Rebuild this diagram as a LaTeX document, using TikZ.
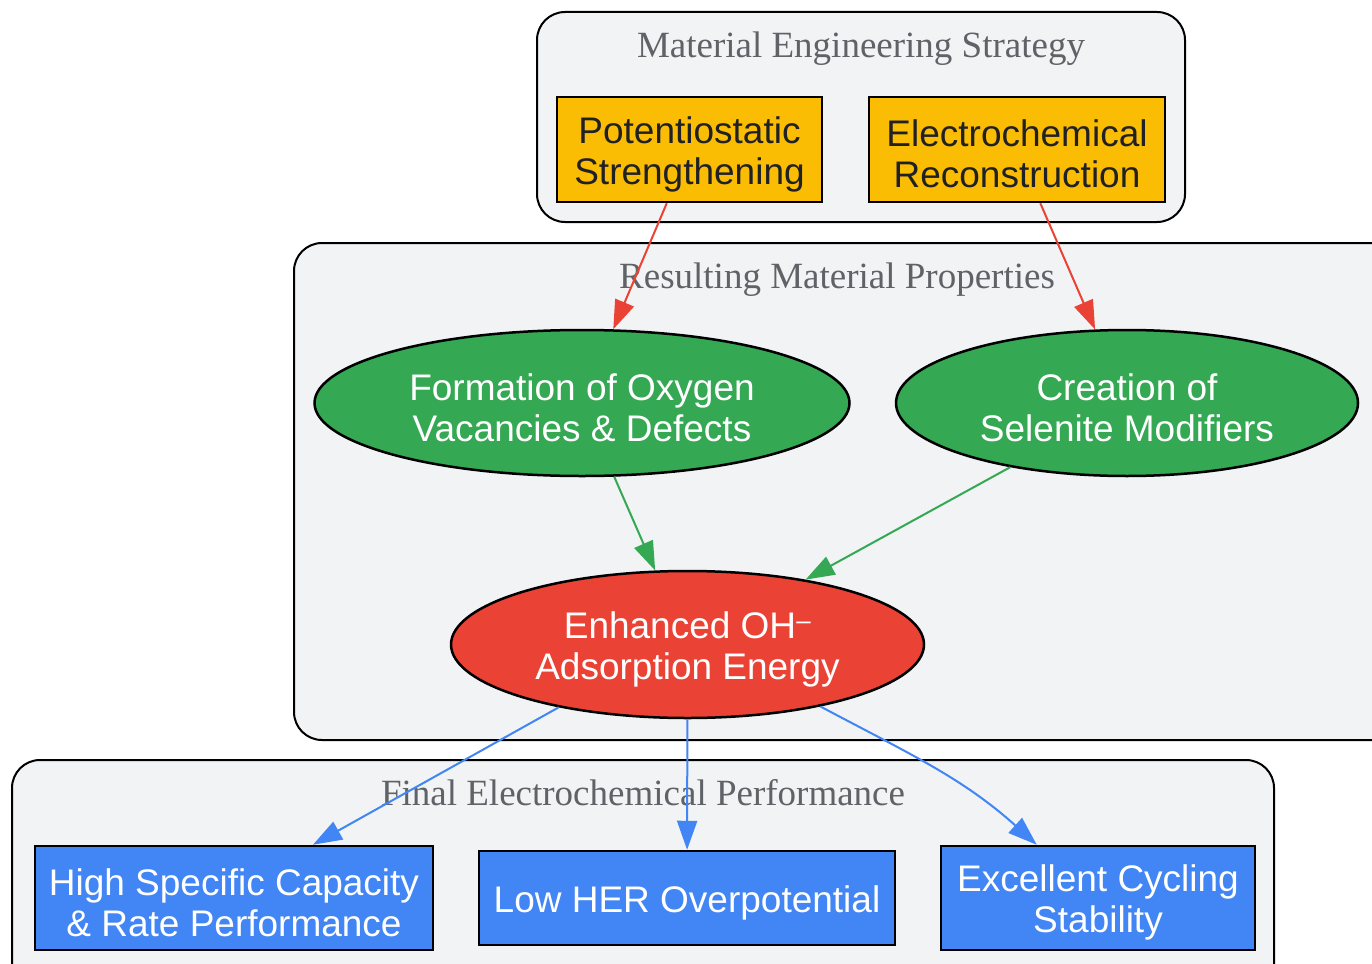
\documentclass[tikz,border=0pt]{standalone}
\usepackage{fontspec}
\setmainfont{Liberation Sans}
\newfontfamily\titlefont{Liberation Serif}
\usetikzlibrary{shapes.geometric,arrows.meta}
\definecolor{gyellow}{HTML}{FBBC04}
\definecolor{ggreen}{HTML}{34A853}
\definecolor{gred}{HTML}{EA4335}
\definecolor{gblue}{HTML}{4285F4}
\definecolor{cfill}{HTML}{F1F3F4}
\definecolor{ctext}{HTML}{5F6368}
\definecolor{dtext}{HTML}{202124}
\tikzset{
  cluster/.style={draw=black, line width=2pt, fill=cfill, rounded corners=28pt},
  ctitle/.style={anchor=base, text=ctext, font=\titlefont\fontsize{37}{40}\selectfont, inner sep=0pt},
  ybox/.style={draw=black, line width=2.5pt, fill=gyellow, inner sep=0pt},
  bbox/.style={draw=black, line width=2.5pt, fill=gblue, inner sep=0pt},
  gell/.style={ellipse, draw=black, line width=2.5pt, fill=ggreen, inner sep=0pt},
  rell/.style={ellipse, draw=black, line width=2.5pt, fill=gred, inner sep=0pt},
  ntext/.style={align=center, inner sep=0pt, yshift=-4.5pt, font=\fontsize{37}{41}\selectfont},
  conn/.style={line width=2pt, -{Triangle[length=29pt,width=20pt]}},
}
\begin{document}
\begin{tikzpicture}[x=1pt,y=-1pt]
\clip (0,0) rectangle (1372,963);
\fill[white] (0,0) rectangle (1372,963);
% clusters
\draw[cluster] (537,12) rectangle (1185,222);
\node[ctitle] (t1) at (861,58) {Material Engineering Strategy};
\draw[cluster] (294,243) rectangle (1420,740);
\draw[cluster] (12,760) rectangle (1274,1010);
% node shapes
\node[ybox, minimum width=265pt, minimum height=105pt] (P) at (689.5,149.5) {};
\node[ybox, minimum width=296pt, minimum height=105pt] (R) at (1017,149.5) {};
\node[gell, minimum width=535pt, minimum height=146pt] (F) at (582,403) {};
\node[gell, minimum width=462pt, minimum height=146pt] (C) at (1127,403) {};
\node[rell, minimum width=473pt, minimum height=147pt] (E) at (687.5,644.5) {};
\node[bbox, minimum width=398pt, minimum height=104pt] (H) at (234,898) {};
\node[bbox, minimum width=416pt, minimum height=94pt] (L) at (687,898) {};
\node[bbox, minimum width=314pt, minimum height=104pt] (X) at (1098,898) {};
% node texts
\node[ntext, text=dtext] (Pt) at (P) {Potentiostatic\\Strengthening};
\node[ntext, text=dtext] (Rt) at (R) {Electrochemical\\Reconstruction};
\node[ntext, text=white] (Ft) at (F) {Formation of Oxygen\\Vacancies \& Defects};
\node[ntext, text=white] (Ct) at (C) {Creation of\\Selenite Modifiers};
\node[ntext, text=white] (Et) at (E) {Enhanced OH\textsuperscript{–}\\Adsorption Energy};
\node[ntext, text=white] (Ht) at (H) {High Specific Capacity\\\& Rate Performance};
\node[ntext, text=white] (Lt) at (L) {Low HER Overpotential};
\node[ntext, text=white] (Xt) at (X) {Excellent Cycling\\Stability};
% titles drawn over
\node[ctitle] (t2) at (837,288) {Resulting Material Properties};
\node[ctitle] (t3) at (643,805) {Final Electrochemical Performance};
% connectors
\draw[conn, gred] (P) -- (F);
\draw[conn, gred] (R) -- (C);
\draw[conn, ggreen] (F) -- (E);
\draw[conn, ggreen] (C) -- (E);
\draw[conn, gblue] (E.206) -- (H.34.5);
\draw[conn, gblue] (E) -- (L);
\draw[conn, gblue] (E.-25) to[out=-28,in=138] (X.139);
\end{tikzpicture}
\end{document}
